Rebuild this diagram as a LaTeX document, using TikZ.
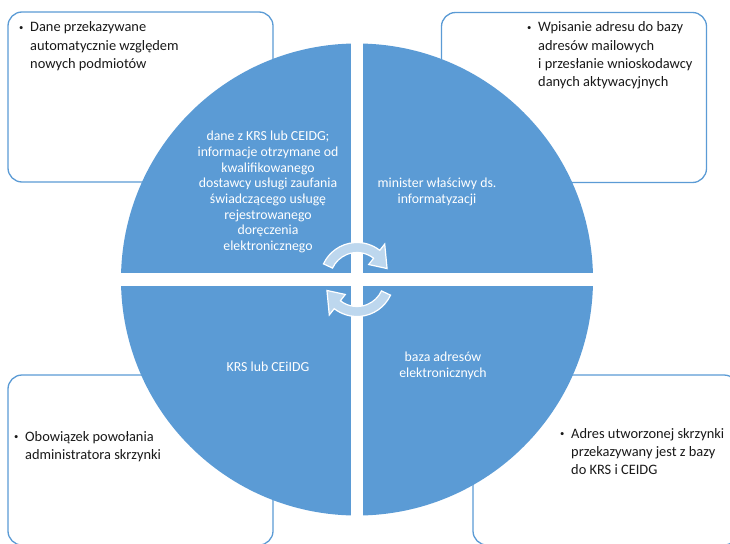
\documentclass[tikz,border=0pt]{standalone}
\usepackage{fontspec}
\setmainfont{Carlito}
\usetikzlibrary{positioning}
\definecolor{quadblue}{RGB}{91,155,213}
\definecolor{arrowblue}{RGB}{189,215,238}
\definecolor{notegray}{RGB}{25,25,25}
\newcommand{\itembullet}{\makebox[12pt][l]{\hspace{1pt}\raisebox{0.1em}{\scalebox{0.6}{\textbullet}}}}

\begin{document}
\begin{tikzpicture}[x=1pt, y=-1pt,
    frame/.style={rectangle, rounded corners=14pt, minimum width=265pt, minimum height=170pt, draw=quadblue, line width=1.3pt, fill=white},
    note/.style={anchor=base west, inner sep=0pt, text=notegray, font=\fontsize{14.4}{18.3}\selectfont},
    quadtext/.style={align=center, text=white, inner sep=0pt, font=\fontsize{13.8}{15.7}\selectfont},
    turnarrow/.style={fill=arrowblue, draw=white, line width=1.2pt}
]
    \useasboundingbox (0,0) rectangle (730,543);

    % Corner frames
    \node[frame] (tlframe) at (140.5,97) {};
    \node[frame] (trframe) at (574,97.5) {};
    \node[frame] (blframe) at (140.5,460) {};
    \node[frame] (brframe) at (605.5,460) {};

    % Disk split in four
    \node[circle, fill=quadblue, minimum size=472pt, inner sep=0pt] (disk) at (357,279.5) {};
    \fill[white] (351,30) rectangle (363,530);
    \fill[white] (100,273) rectangle (620,286);

    % Turning arrows
    \begin{scope}[shift={(disk.center)}, x=1pt, y=1pt]
        \foreach \turn in {0,180}
            \filldraw[turnarrow, rotate=\turn] (155:37) arc[start angle=155, end angle=52, radius=37pt]
                -- (52:45) -- (20:32) -- (52:19) -- (52:27)
                arc[start angle=52, end angle=155, radius=27pt] -- cycle;
    \end{scope}

    % Quadrant texts
    \node[quadtext] (qone) at (268,192) {dane z KRS lub CEIDG;\\informacje otrzymane od\\kwalifikowanego\\dostawcy usługi zaufania\\świadczącego usługę\\rejestrowanego\\doręczenia\\elektronicznego};
    \node[quadtext] (qtwo) at (437,192) {minister właściwy ds.\\informatyzacji};
    \node[quadtext] (qthree) at (268,367) {KRS lub CEiIDG};
    \node[quadtext] (qfour) at (443,366) {baza adresów\\elektronicznych};

    % Frame texts
    \node[note] (tlnote) at (18,32) {\begin{tabular}[t]{@{}l@{}l@{}}\itembullet & Dane przekazywane\\ & automatycznie względem\\ & nowych podmiotów\end{tabular}};
    \node[note] (trnote) at (526,32) {\begin{tabular}[t]{@{}l@{}l@{}}\itembullet & Wpisanie adresu do bazy\\ & adresów mailowych\\ & i przesłanie wnioskodawcy\\ & danych aktywacyjnych\end{tabular}};
    \node[note] (blnote) at (13,441) {\begin{tabular}[t]{@{}l@{}l@{}}\itembullet & Obowiązek powołania\\ & administratora skrzynki\end{tabular}};
    \node[note] (brnote) at (559,438) {\begin{tabular}[t]{@{}l@{}l@{}}\itembullet & Adres utworzonej skrzynki\\ & przekazywany jest z bazy\\ & do KRS i CEIDG\end{tabular}};

\end{tikzpicture}
\end{document}
